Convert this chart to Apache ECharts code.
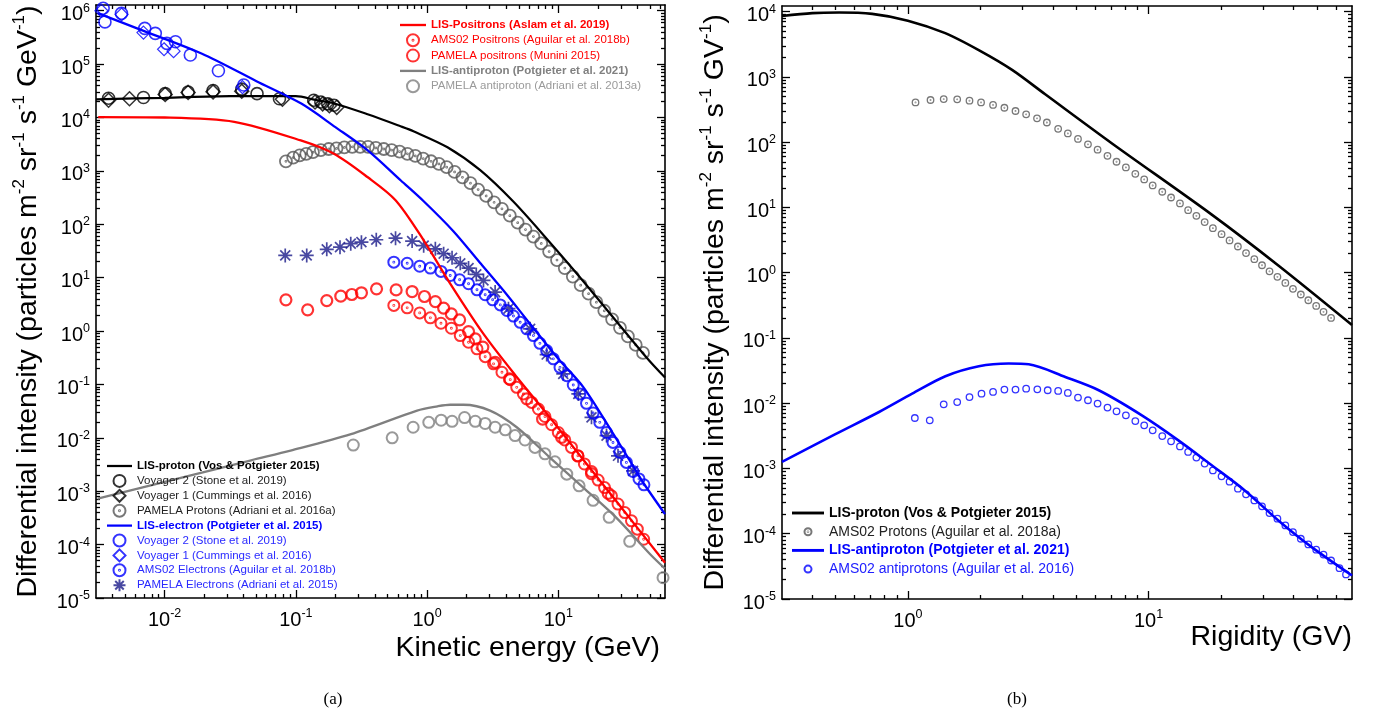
<!DOCTYPE html>
<html>
<head>
<meta charset="utf-8">
<script src="https://cdn.jsdelivr.net/npm/echarts@6/dist/echarts.min.js"></script>
<style>
html,body{margin:0;padding:0;background:#fff;}
#chart{width:1377px;height:717px;}
</style>
</head>
<body>
<div id="chart"></div>
<script>
// ---------------- DATA (panel a: kinetic energy GeV, intensity) ----------------
const lisProtonA = [[0.003,2.19e4],[0.01,2.34e4],[0.0316,2.51e4],[0.1,2.51e4],[0.141,2.14e4],[0.194,1.85e4],[0.352,1.15e4],[0.627,6.87e3],[0.787,5.53e3],[1.43,2.77e3],[2.54,1.03e3],[4.52,269],[8.15,53.7],[14.6,10.2],[46.8,0.324],[65,0.135]];
const lisElectronA = [[0.00312,8.91e5],[0.00631,4.57e5],[0.0191,1.58e5],[0.0501,4.79e4],[0.110,1.82e4],[0.2,6.61e3],[0.351,2.45e3],[0.631,661],[0.942,270],[1.58,75],[2.51,19.5],[3.82,5.75],[6.10,1.36],[10,0.302],[15.5,0.0891],[25.1,0.0141],[39.8,2.24e-3],[44.9,1.38e-3],[65,3.72e-4]];
const lisPositronA = [[0.00312,1.02e4],[0.01,1.0e4],[0.0339,8.32e3],[0.109,3.72e3],[0.195,2.09e3],[0.351,767],[0.575,282],[0.942,50.1],[1.50,7.76],[2.69,0.885],[4.82,0.138],[8.63,0.024],[15.5,3.89e-3],[27.5,6.61e-4],[65,4.57e-5]];
const lisAntiprotonA = [[0.00309,7.24e-4],[0.0457,3.80e-3],[0.0912,5.75e-3],[0.263,0.0117],[0.839,0.0324],[1.20,0.0389],[1.50,0.0417],[1.90,0.0417],[3.02,0.0324],[4.82,0.0158],[8.63,4.27e-3],[15.5,1.17e-3],[27.5,3.24e-4],[50.1,6.61e-5],[65,3.55e-5]];

const voy2Protons = [[0.00374,2.3e4],[0.0069,2.37e4],[0.0101,2.8e4],[0.0151,3.0e4],[0.0234,3.2e4],[0.0387,3.4e4],[0.0506,2.8e4],[0.075,2.25e4],[0.137,2.1e4],[0.155,1.95e4],[0.175,1.8e4],[0.195,1.7e4]];
const voy1Protons = [[0.00374,2.1e4],[0.0054,2.24e4],[0.0101,2.69e4],[0.0151,2.95e4],[0.0234,3.02e4],[0.0387,3.1e4],[0.079,2.2e4],[0.14,1.95e4],[0.16,1.8e4],[0.18,1.66e4],[0.205,1.55e4]];
const pamelaProtons = [[0.084,1510],[0.0955,1778],[0.107,1950],[0.120,2089],[0.135,2239],[0.155,2455],[0.178,2570],[0.204,2630],[0.234,2754],[0.269,2818],[0.309,2818],[0.355,2818],[0.407,2692],[0.468,2570],[0.537,2455],[0.617,2291],[0.708,2089],[0.813,1905],[0.933,1698],[1.072,1514],[1.23,1349],[1.41,1175],[1.62,955],[1.86,759],[2.14,589],[2.45,447],[2.82,339],[3.24,257],[3.72,195],[4.27,145],[4.90,107],[5.62,79.4],[6.46,58.9],[7.41,43.7],[8.51,30.9],[9.77,21.4],[11.2,15.1],[12.9,10.5],[14.8,7.24],[17.0,5.01],[19.5,3.47],[22.4,2.40],[25.7,1.66],[29.5,1.15],[33.9,0.794],[38.9,0.550],[44.2,0.389]];

const voy2Electrons = [[0.0034,1.11e6],[0.00351,6.17e5],[0.00469,8.91e5],[0.00706,4.68e5],[0.00849,3.77e5],[0.0104,2.45e5],[0.0121,2.63e5],[0.0157,1.48e5],[0.0257,7.5e4],[0.0401,4.07e4]];
const voy1Electrons = [[0.0033,1.0e6],[0.0047,8.5e5],[0.0069,3.9e5],[0.0099,1.9e5],[0.0117,1.75e5],[0.0392,3.7e4]];
const ams02Electrons = [[0.558,19.5],[0.705,18.6],[0.879,16.4],[1.059,15.1],[1.276,13.1],[1.50,11.0],[1.77,9.12],[2.07,7.69],[2.40,5.93],[2.77,4.79],[3.16,3.85],[3.61,3.09],[4.06,2.43],[4.55,1.91],[5.12,1.46],[5.75,1.10],[6.46,0.822],[7.24,0.589],[8.15,0.431],[9.16,0.302],[10.3,0.209],[11.6,0.146],[13.0,0.0977],[14.6,0.0664],[16.4,0.0443],[18.4,0.0292],[20.7,0.0195],[23.3,0.0126],[26.1,8.20e-3],[29.4,5.37e-3],[33.0,3.47e-3],[37.1,2.34e-3],[41.2,1.70e-3],[44.9,1.32e-3]];
const pamelaElectrons = [[0.083,26.1],[0.121,26.1],[0.172,33.9],[0.217,37.3],[0.262,43.3],[0.316,46.3],[0.41,51.3],[0.575,55.0],[0.769,48.4],[0.942,39.8],[1.156,34.7],[1.337,28.1],[1.55,23.6],[1.79,18.6],[2.07,15.1],[2.37,11.5],[2.69,8.87],[3.30,5.37],[4.17,2.63],[6.10,1.10],[8.15,0.363],[10.9,0.158],[14.2,0.0664],[17.9,0.0242],[23.3,0.011],[28.5,4.61e-3],[37.1,2.40e-3]];

const ams02Positrons = [[0.558,3.02],[0.705,2.72],[0.879,2.19],[1.059,1.77],[1.276,1.40],[1.531,1.13],[1.79,0.822],[2.07,0.617],[2.40,0.465],[2.77,0.331],[3.21,0.243],[3.72,0.169],[4.30,0.123],[4.82,0.0883],[5.42,0.0664],[6.27,0.0461],[7.05,0.0347],[7.91,0.0251],[8.89,0.0176],[10.0,0.0126],[11.2,9.12e-3],[12.6,6.61e-3],[14.1,4.61e-3],[15.8,3.24e-3],[17.9,2.34e-3],[20.1,1.62e-3],[22.5,1.17e-3],[25.4,8.20e-4],[28.5,5.75e-4],[32.1,3.98e-4],[36.1,2.79e-4],[40.0,1.95e-4],[44.7,1.26e-4]];
const pamelaPositrons = [[0.084,3.85],[0.123,2.50],[0.172,3.72],[0.22,4.50],[0.267,4.84],[0.316,5.21],[0.412,6.17],[0.581,5.89],[0.769,5.50],[0.955,4.44],[1.156,3.57],[1.337,2.69],[1.531,2.09],[1.77,1.62],[2.07,0.977],[2.33,0.714],[2.66,0.501],[3.30,0.26],[4.24,0.127],[5.75,0.0537],[7.59,0.0224],[10.6,0.0102],[14.1,4.57e-3],[17.9,2.14e-3],[24.0,9.12e-4]];
const pamelaAntiprotons = [[0.274,7.33e-3],[0.542,0.01],[0.783,0.0158],[1.03,0.0195],[1.28,0.0214],[1.55,0.0204],[1.93,0.024],[2.33,0.0204],[2.77,0.0186],[3.30,0.0158],[3.94,0.0141],[4.68,0.011],[5.57,9.12e-3],[6.64,6.61e-3],[7.91,5.01e-3],[9.42,3.55e-3],[11.6,2.09e-3],[14.4,1.26e-3],[18.4,6.76e-4],[24.4,3.24e-4],[35.0,1.15e-4],[62.8,2.40e-5]];

// ---------------- DATA (panel b: rigidity GV, intensity) ----------------
const lisProtonB = [[0.3,8590],[0.401,9500],[0.518,9700],[0.711,9230],[1.0,7280],[1.43,4680],[1.97,2570],[2.71,1280],[3.72,541],[7.05,95.5],[18.3,7.76],[34.6,1.29],[70,0.158]];
const ams02ProtonsB = [[1.076,407],[1.242,443],[1.409,457],[1.603,453],[1.803,432],[2.014,407],[2.259,372],[2.518,337],[2.80,300],[3.10,267],[3.44,232],[3.78,200],[4.21,160],[4.62,136],[5.09,112],[5.60,92.5],[6.14,76.6],[6.75,61.7],[7.36,50.1],[8.05,41.0],[8.81,32.7],[9.59,26.9],[10.4,21.7],[11.4,17.4],[12.4,14.2],[13.5,11.5],[14.6,9.08],[15.8,7.43],[17.1,5.96],[18.5,4.81],[20.1,3.89],[21.7,3.12],[23.5,2.52],[25.4,2.0],[27.5,1.61],[29.6,1.30],[31.8,1.05],[34.3,0.863],[37.0,0.698],[39.8,0.565],[42.9,0.463],[46.1,0.378],[49.7,0.31],[53.3,0.251],[57.3,0.203]];
const lisAntiprotonB = [[0.3,1.26e-3],[0.5,3.35e-3],[0.759,7.33e-3],[1.042,0.014],[1.432,0.0259],[1.972,0.0368],[2.624,0.0405],[3.177,0.0395],[4.508,0.0252],[6.209,0.0158],[9.376,6.52e-3],[13.3,2.70e-3],[18.3,1.12e-3],[25.1,4.61e-4],[34.6,1.60e-4],[47.6,6.24e-5],[70,2.29e-5]];
const ams02AntiprotonsB = [[1.069,5.93e-3],[1.233,5.47e-3],[1.409,9.61e-3],[1.603,0.0104],[1.803,0.0124],[2.023,0.0140],[2.259,0.0149],[2.518,0.0162],[2.80,0.0162],[3.10,0.0167],[3.45,0.0163],[3.81,0.0158],[4.21,0.0154],[4.62,0.0144],[5.09,0.0122],[5.60,0.0111],[6.14,9.86e-3],[6.75,8.57e-3],[7.36,7.52e-3],[8.05,6.52e-3],[8.81,5.33e-3],[9.59,4.58e-3],[10.4,3.84e-3],[11.4,3.14e-3],[12.4,2.61e-3],[13.5,2.18e-3],[14.6,1.79e-3],[15.8,1.47e-3],[17.1,1.19e-3],[18.5,9.33e-4],[20.1,7.59e-4],[21.7,6.27e-4],[23.5,4.90e-4],[25.4,4.01e-4],[27.5,3.24e-4],[29.6,2.63e-4],[31.8,2.07e-4],[34.3,1.70e-4],[37.0,1.34e-4],[39.8,1.06e-4],[42.9,8.38e-5],[46.1,6.85e-5],[49.7,5.69e-5],[53.3,4.79e-5],[57.3,3.89e-5],[62.1,2.97e-5],[66.1,2.38e-5]];

// ---------------- TICKS ----------------
const xTicksA = [0.01, 0.1, 1, 10];
const yTicksA = [1e-5,1e-4,1e-3,1e-2,1e-1,1,10,100,1e3,1e4,1e5,1e6];
const xTicksB = [1, 10];
const yTicksB = [1e-5,1e-4,1e-3,1e-2,1e-1,1,10,100,1e3,1e4];
const xRangeA = [0.003, 65], yRangeA = [1e-5, 1.28e6];
const xRangeB = [0.3, 70],   yRangeB = [1e-5, 1.22e4];

function minorTicks(lo, hi){
  const out=[];
  for(let e=Math.floor(Math.log10(lo))-1;e<=Math.ceil(Math.log10(hi));e++){
    for(let m=2;m<=9;m++){const v=m*Math.pow(10,e); if(v>lo*1.0001 && v<hi*0.9999) out.push(v);}
  }
  return out;
}

const FONT = "'Liberation Sans', Arial, Helvetica, sans-serif";
const tickRich = {
  b:{fontSize:20, lineHeight:26, fontFamily:FONT, color:'#000'},
  e:{fontSize:12.5, lineHeight:13, fontFamily:FONT, color:'#000', verticalAlign:'top'}
};
function powLabel(v){const e=Math.round(Math.log10(v)); return '{b|10}{e|'+e+'}';}

function axis(o){
  const a = {
    type:'log', logBase:10, gridIndex:o.grid, min:o.range[0], max:o.range[1], position:o.pos,
    axisLine:{show:o.line, onZero:false, lineStyle:{color:'#000', width:1.6}},
    axisTick:{show:true, inside:true, length:o.len, customValues:o.ticks, lineStyle:{color:'#000', width:1.3}},
    axisLabel:{show:false},
    splitLine:{show:false}, minorTick:{show:false}, minorSplitLine:{show:false},
    silent:true
  };
  if(o.labels){
    a.axisLabel = {show:true, customValues:o.ticks, formatter:powLabel, rich:tickRich, margin:o.margin, padding:o.pad||0};
  }
  if(o.name){ Object.assign(a, o.name); }
  return a;
}

const yNameRich = {
  a:{fontSize:28.5, lineHeight:35, fontFamily:FONT, color:'#000'},
  s:{fontSize:17, lineHeight:17, fontFamily:FONT, color:'#000', verticalAlign:'top'}
};

const xAxes = [
  axis({grid:0, range:xRangeA, pos:'bottom', line:true, len:8, ticks:xTicksA, labels:true, margin:9,
    name:{name:'Kinetic energy (GeV)', nameLocation:'end', nameGap:-5,
      nameTextStyle:{fontSize:28.5, fontFamily:FONT, color:'#000', align:'right', verticalAlign:'top', padding:[36,0,0,0]}}}),
  axis({grid:0, range:xRangeA, pos:'top', line:true, len:8, ticks:xTicksA}),
  axis({grid:0, range:xRangeA, pos:'bottom', line:false, len:4, ticks:minorTicks(xRangeA[0],xRangeA[1])}),
  axis({grid:0, range:xRangeA, pos:'top', line:false, len:4, ticks:minorTicks(xRangeA[0],xRangeA[1])}),
  axis({grid:1, range:xRangeB, pos:'bottom', line:true, len:8, ticks:xTicksB, labels:true, margin:9,
    name:{name:'Rigidity (GV)', nameLocation:'end', nameGap:0,
      nameTextStyle:{fontSize:28.5, fontFamily:FONT, color:'#000', align:'right', verticalAlign:'top', padding:[24,0,0,0]}}}),
  axis({grid:1, range:xRangeB, pos:'top', line:true, len:8, ticks:xTicksB}),
  axis({grid:1, range:xRangeB, pos:'bottom', line:false, len:4, ticks:minorTicks(xRangeB[0],xRangeB[1])}),
  axis({grid:1, range:xRangeB, pos:'top', line:false, len:4, ticks:minorTicks(xRangeB[0],xRangeB[1])})
];
const yAxes = [
  axis({grid:0, range:yRangeA, pos:'left', line:true, len:8, ticks:yTicksA, labels:true, margin:6, pad:[8,0,0,0],
    name:{name:'{a|Differential intensity (particles m}{s|-2}{a| sr}{s|-1}{a| s}{s|-1}{a| GeV}{s|-1}{a|)}',
      nameLocation:'middle', nameRotate:90, nameGap:50, nameTextStyle:{rich:yNameRich}}}),
  axis({grid:0, range:yRangeA, pos:'right', line:true, len:8, ticks:yTicksA}),
  axis({grid:0, range:yRangeA, pos:'left', line:false, len:4, ticks:minorTicks(yRangeA[0],yRangeA[1])}),
  axis({grid:0, range:yRangeA, pos:'right', line:false, len:4, ticks:minorTicks(yRangeA[0],yRangeA[1])}),
  axis({grid:1, range:yRangeB, pos:'left', line:true, len:8, ticks:yTicksB, labels:true, margin:6, pad:[8,0,0,0],
    name:{name:'{a|Differential intensity (particles m}{s|-2}{a| sr}{s|-1}{a| s}{s|-1}{a| GV}{s|-1}{a|)}',
      nameLocation:'middle', nameRotate:90, nameGap:49, nameTextStyle:{rich:yNameRich}}}),
  axis({grid:1, range:yRangeB, pos:'right', line:true, len:8, ticks:yTicksB}),
  axis({grid:1, range:yRangeB, pos:'left', line:false, len:4, ticks:minorTicks(yRangeB[0],yRangeB[1])}),
  axis({grid:1, range:yRangeB, pos:'right', line:false, len:4, ticks:minorTicks(yRangeB[0],yRangeB[1])})
];

const SYM_RINGDOT = 'path://M10 0 A10 10 0 1 1 10 20 A10 10 0 1 1 10 0 Z M10 9.2 A0.8 0.8 0 1 1 10 10.8 A0.8 0.8 0 1 1 10 9.2 Z';
const SYM_STAR = 'path://M0 10 L20 10 M10 0 L10 20 M2.9 2.9 L17.1 17.1 M17.1 2.9 L2.9 17.1';
const SYM_DIAMOND = 'path://M10 0 L20 10 L10 20 L0 10 Z';
const LINE_ICON = 'path://M0 0 L100 0 L100 9 L0 9 Z';
const CLEAR = 'rgba(0,0,0,0)';

function scatter(name, data, panel, symbol, size, color, width){
  return {type:'scatter', name, data, xAxisIndex:panel*4, yAxisIndex:panel*4, symbol, symbolSize:size,
    itemStyle:{color:CLEAR, borderColor:color, borderWidth:width}, z:2, silent:true, clip:true};
}
function line(name, data, panel, color, width){
  return {type:'line', name, data, xAxisIndex:panel*4, yAxisIndex:panel*4, symbol:'none', showSymbol:false,
    smooth:0.3, lineStyle:{color, width}, itemStyle:{color}, z:3, silent:true, clip:true};
}

const RED='#ff0000', BLUE='#0000ff', NAVY='#1a1a8a', GRAYL='#7f7f7f';
const N = {
  lisPos:'LIS-Positrons (Aslam et al. 2019)', amsPos:'AMS02 Positrons (Aguilar et al. 2018b)', pamPos:'PAMELA positrons (Munini 2015)',
  lisAp:'LIS-antiproton (Potgieter et al. 2021)', pamAp:'PAMELA antiproton (Adriani et al. 2013a)',
  lisP:'LIS-proton (Vos & Potgieter 2015)', v2p:'Voyager 2 (Stone et al. 2019)', v1p:'Voyager 1 (Cummings et al. 2016)', pamP:'PAMELA Protons (Adriani et al. 2016a)',
  lisE:'LIS-electron (Potgieter et al. 2015)', v2e:'Voyager 2 (Stone et al. 2019) ', v1e:'Voyager 1 (Cummings et al. 2016) ', amsE:'AMS02 Electrons (Aguilar et al. 2018b)', pamE:'PAMELA Electrons (Adriani et al. 2015)',
  lisPB:'LIS-proton (Vos & Potgieter 2015) ', amsPB:'AMS02 Protons (Aguilar et al. 2018a)', lisApB:'LIS-antiproton (Potgieter et al. 2021) ', amsApB:'AMS02 antiprotons (Aguilar et al. 2016)'
};

const series = [
  scatter(N.pamP, pamelaProtons, 0, SYM_RINGDOT, 12, '#555', 1.8),
  scatter(N.v2p, voy2Protons, 0, 'circle', 12, '#000', 1.6),
  scatter(N.v1p, voy1Protons, 0, SYM_DIAMOND, 14, '#000', 1.5),
  scatter(N.v2e, voy2Electrons, 0, 'circle', 12, BLUE, 1.6),
  scatter(N.v1e, voy1Electrons, 0, SYM_DIAMOND, 13, BLUE, 1.2),
  scatter(N.pamE, pamelaElectrons, 0, SYM_STAR, 14, NAVY, 1.7),
  scatter(N.amsE, ams02Electrons, 0, SYM_RINGDOT, 11, BLUE, 2),
  scatter(N.pamPos, pamelaPositrons, 0, 'circle', 11, RED, 2.2),
  scatter(N.amsPos, ams02Positrons, 0, SYM_RINGDOT, 11, RED, 2),
  scatter(N.pamAp, pamelaAntiprotons, 0, 'circle', 11, '#808080', 2),
  line(N.lisP, lisProtonA, 0, '#000', 2.2),
  line(N.lisE, lisElectronA, 0, BLUE, 2.3),
  line(N.lisPos, lisPositronA, 0, RED, 2.3),
  line(N.lisAp, lisAntiprotonA, 0, GRAYL, 2.3),
  scatter(N.amsPB, ams02ProtonsB, 1, SYM_RINGDOT, 6.5, '#555', 1.3),
  scatter(N.amsApB, ams02AntiprotonsB, 1, 'circle', 6.5, BLUE, 1.3),
  line(N.lisPB, lisProtonB, 1, '#000', 2.6),
  line(N.lisApB, lisAntiprotonB, 1, BLUE, 2.6)
];

function li(name, color, bold, isLine){
  const o = {name, textStyle:{color, fontWeight:bold?'bold':'normal'}};
  if(isLine) o.icon = LINE_ICON;
  return o;
}
const legends = [
  {left:400, top:18, padding:0, orient:'vertical', itemWidth:26, itemHeight:12, itemGap:1.3, selectedMode:false, symbolKeepAspect:true,
   textStyle:{fontFamily:FONT, fontSize:11.5, lineHeight:14},
   data:[li(N.lisPos,RED,true,true), li(N.amsPos,RED), li(N.pamPos,RED), li(N.lisAp,'#808080',true,true), li(N.pamAp,'#9a9a9a')]},
  {left:107, top:459, padding:0, orient:'vertical', itemWidth:25, itemHeight:12, itemGap:0.9, selectedMode:false, symbolKeepAspect:true,
   textStyle:{fontFamily:FONT, fontSize:11.5, lineHeight:14},
   data:[li(N.lisP,'#000',true,true), li(N.v2p,'#222'), li(N.v1p,'#222'), li(N.pamP,'#222'),
         li(N.lisE,BLUE,true,true), li(N.v2e,'#2a2aff'), li(N.v1e,'#2a2aff'), li(N.amsE,'#2a2aff'), li(N.pamE,'#2a2aff')]},
  {left:792, top:504.5, padding:0, orient:'vertical', itemWidth:32, itemHeight:7, itemGap:1.7, selectedMode:false, symbolKeepAspect:true,
   textStyle:{fontFamily:FONT, fontSize:14, lineHeight:17},
   data:[li(N.lisPB,'#000',true,true), li(N.amsPB,'#222'), li(N.lisApB,BLUE,true,true), li(N.amsApB,'#2020ff')]}
];

const chart = echarts.init(document.getElementById('chart'), null, {renderer:'canvas'});
chart.setOption({
  animation:false,
  backgroundColor:'#fff',
  grid:[{left:96, top:5, width:569, height:593}, {left:782, top:6, width:570, height:593}],
  xAxis:xAxes, yAxis:yAxes,
  legend:legends,
  series,
  graphic:[
    {type:'text', x:333, y:700, style:{text:'(a)', font:"17px 'Liberation Serif', 'DejaVu Serif', serif", fill:'#000', textAlign:'center', textVerticalAlign:'middle'}},
    {type:'text', x:1017, y:700, style:{text:'(b)', font:"17px 'Liberation Serif', 'DejaVu Serif', serif", fill:'#000', textAlign:'center', textVerticalAlign:'middle'}}
  ]
});
</script>
</body>
</html>
